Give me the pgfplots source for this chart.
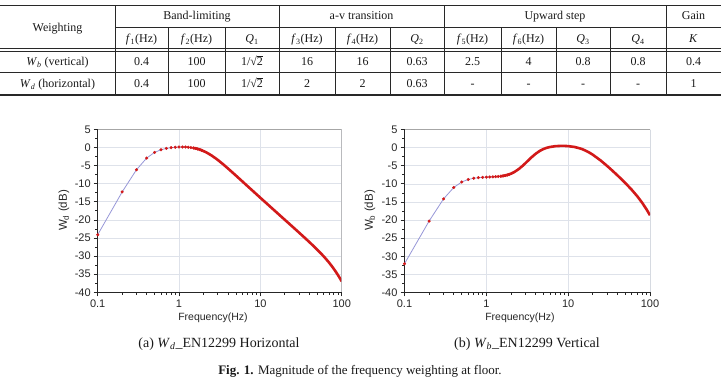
\documentclass[border=0pt]{standalone}
\usepackage{fontspec}
\setmainfont{Liberation Serif}
\setsansfont{Liberation Sans}
\usepackage{pgfplots}
\usepackage{pgfplotstable}
\pgfplotsset{compat=1.18}

\definecolor{curvered}{RGB}{210,25,25}
\definecolor{linkline}{RGB}{150,150,215}
\definecolor{gridgray}{RGB}{222,226,234}
\definecolor{rulegray}{RGB}{40,40,40}

% W_d, EN 12299 horizontal weighting (frequency in Hz, magnitude in dB)
\pgfplotstableread{
f dB
0.1 -24.10
0.2 -12.28
0.3 -6.15
0.4 -2.94
0.5 -1.38
0.6 -0.64
0.7 -0.27
0.8 -0.07
0.9 0.04
1.0 0.10
1.1 0.11
1.2 0.09
1.3 0.04
1.4 -0.04
1.5 -0.15
1.6 -0.28
1.7 -0.43
1.8 -0.61
1.9 -0.80
2.0 -1.01
2.2 -1.46
2.5 -2.20
2.8 -2.97
3 -3.47
3.5 -4.69
4 -5.82
5 -7.76
6 -9.38
7 -10.75
8 -11.93
10 -13.91
12 -15.51
15 -17.47
20 -19.99
25 -21.94
30 -23.55
35 -24.92
40 -26.13
45 -27.22
50 -28.22
55 -29.16
60 -30.07
65 -30.95
70 -31.81
75 -32.67
80 -33.53
85 -34.39
90 -35.25
95 -36.12
100 -36.99
}\Wdtable

% W_b, EN 12299 vertical weighting
\pgfplotstableread{
f dB
0.1 -32.06
0.2 -20.27
0.3 -14.16
0.4 -11.00
0.5 -9.49
0.6 -8.80
0.7 -8.46
0.8 -8.30
0.9 -8.21
1.0 -8.16
1.1 -8.11
1.2 -8.07
1.3 -8.03
1.4 -7.97
1.5 -7.90
1.6 -7.81
1.7 -7.69
1.8 -7.55
1.9 -7.39
2.0 -7.20
2.2 -6.74
2.5 -5.89
2.8 -4.95
3 -4.31
3.5 -2.84
4 -1.71
4.5 -0.91
5 -0.38
5.5 -0.04
6 0.17
7 0.40
8 0.47
9 0.47
10 0.41
12 0.17
14 -0.23
15 -0.47
16 -0.74
18 -1.33
20 -1.96
25 -3.57
30 -5.08
35 -6.44
40 -7.66
45 -8.77
50 -9.79
60 -11.68
70 -13.45
80 -15.19
90 -16.93
100 -18.67
}\Wbtable

\newcommand{\cell}[3]{\node[anchor=base, inner sep=0pt] at (#1pt,-#2pt) {#3};}
\newcommand{\iv}[1]{\textit{#1}}
% 1/sqrt(2) in the text font, with the vinculum drawn over the 2
\newcommand{\invroot}{1/√\kern-0.02em\rlap{\rule[0.73em]{0.5em}{0.045em}}2}

\begin{document}
\begin{tikzpicture}
\useasboundingbox (0pt,0pt) rectangle (721pt,-390pt);

% ---------------- parameter table ----------------
\begin{scope}[rulegray]
  \draw[line width=1.4pt] (0pt,-5.5pt) -- (721pt,-5.5pt);
  \draw[line width=0.8pt] (115pt,-27.3pt) -- (721pt,-27.3pt);
  \draw[line width=0.7pt] (0pt,-48.8pt) -- (721pt,-48.8pt);
  \draw[line width=0.7pt] (0pt,-51.3pt) -- (721pt,-51.3pt);
  \draw[line width=0.8pt] (0pt,-72.8pt) -- (721pt,-72.8pt);
  \draw[line width=1.4pt] (0pt,-95pt) -- (721pt,-95pt);
  \foreach \x in {115,279,444,666}
    \draw[line width=0.8pt] (\x pt,-5.5pt) -- (\x pt,-95pt);
  \foreach \x in {168,225,335,390,501,556,610}
    \draw[line width=0.8pt] (\x pt,-27.3pt) -- (\x pt,-95pt);
\end{scope}

\begin{scope}[font=\fontsize{12}{14}\selectfont, text=black!90]
  \cell{57.5}{31.5}{Weighting}
  \cell{197}{20}{Band-limiting}
  \cell{361.5}{20}{a-v transition}
  \cell{555}{20}{Upward step}
  \cell{693.5}{20}{Gain}

  \cell{141.5}{42.5}{\iv{f}\textsubscript{1}(Hz)}
  \cell{196.5}{42.5}{\iv{f}\textsubscript{2}(Hz)}
  \cell{252}{42.5}{\iv{Q}\textsubscript{1}}
  \cell{307}{42.5}{\iv{f}\textsubscript{3}(Hz)}
  \cell{362.5}{42.5}{\iv{f}\textsubscript{4}(Hz)}
  \cell{417}{42.5}{\iv{Q}\textsubscript{2}}
  \cell{472.5}{42.5}{\iv{f}\textsubscript{5}(Hz)}
  \cell{528.5}{42.5}{\iv{f}\textsubscript{6}(Hz)}
  \cell{583}{42.5}{\iv{Q}\textsubscript{3}}
  \cell{638}{42.5}{\iv{Q}\textsubscript{4}}
  \cell{693.5}{42.5}{\iv{K}}

  \cell{57.5}{65.5}{\iv{W}\textsubscript{\iv{b}} (vertical)}
  \cell{141.5}{65.5}{0.4}
  \cell{196.5}{65.5}{100}
  \cell{252}{65.5}{\invroot}
  \cell{307}{65.5}{16}
  \cell{362.5}{65.5}{16}
  \cell{417}{65.5}{0.63}
  \cell{472.5}{65.5}{2.5}
  \cell{528.5}{65.5}{4}
  \cell{583}{65.5}{0.8}
  \cell{638}{65.5}{0.8}
  \cell{693.5}{65.5}{0.4}

  \cell{57.5}{87.5}{\iv{W}\textsubscript{\iv{d}} (horizontal)}
  \cell{141.5}{87.5}{0.4}
  \cell{196.5}{87.5}{100}
  \cell{252}{87.5}{\invroot}
  \cell{307}{87.5}{2}
  \cell{362.5}{87.5}{2}
  \cell{417}{87.5}{0.63}
  \cell{472.5}{87.5}{-}
  \cell{528.5}{87.5}{-}
  \cell{583}{87.5}{-}
  \cell{638}{87.5}{-}
  \cell{693.5}{87.5}{1}
\end{scope}

% ---------------- (a) W_d horizontal ----------------
\begin{axis}[
    at={(97.7pt,-292.3pt)}, anchor=south west,
    scale only axis, width=244pt, height=163pt,
    xmode=log, xmin=0.1, xmax=100, ymin=-40, ymax=5,
    xtick={0.1,1,10,100}, xticklabels={0.1,1,10,100},
    minor xtick={0.2,0.3,0.4,0.5,0.6,0.7,0.8,0.9,2,3,4,5,6,7,8,9,20,30,40,50,60,70,80,90},
    ytick={-40,-35,-30,-25,-20,-15,-10,-5,0,5},
    yticklabels={-40,-35,-30,-25,-20,-15,-10,-5,0,5},
    minor ytick={-37.5,-32.5,-27.5,-22.5,-17.5,-12.5,-7.5,-2.5,2.5},
    axis x line*=bottom, axis y line*=left,
    tick align=outside, major tick length=4pt, minor tick length=2.5pt,
    axis line style={black!85, line width=0.9pt},
    tick style={black!85, line width=0.7pt},
    xmajorgrids, ymajorgrids,
    major grid style={gridgray, line width=0.6pt},
    ticklabel style={font=\fontsize{11}{12}\selectfont\sffamily, text=black!85},
    yticklabel style={xshift=0.5pt},
  ]
  \addplot[linkline, line width=0.8pt, no marks] table[x=f, y=dB] {\Wdtable};
  \addplot[curvered, line width=2.6pt, no marks, line join=round,
    skip coords between index={0}{14}] table[x=f, y=dB] {\Wdtable};
  \addplot[only marks, mark=*, mark size=1.35pt, curvered,
    mark options={draw=curvered, fill=curvered},
    skip coords between index={19}{200}] table[x=f, y=dB] {\Wdtable};
  \draw[gray!70, line width=0.7pt] (rel axis cs:0,1) -- (rel axis cs:1,1) -- (rel axis cs:1,0);
\end{axis}

% ---------------- (b) W_b vertical ----------------
\begin{axis}[
    at={(404.5pt,-292.5pt)}, anchor=south west,
    scale only axis, width=245.5pt, height=163pt,
    xmode=log, xmin=0.1, xmax=100, ymin=-40, ymax=5,
    xtick={0.1,1,10,100}, xticklabels={0.1,1,10,100},
    minor xtick={0.2,0.3,0.4,0.5,0.6,0.7,0.8,0.9,2,3,4,5,6,7,8,9,20,30,40,50,60,70,80,90},
    ytick={-40,-35,-30,-25,-20,-15,-10,-5,0,5},
    yticklabels={-40,-35,-30,-25,-20,-15,-10,-5,0,5},
    minor ytick={-37.5,-32.5,-27.5,-22.5,-17.5,-12.5,-7.5,-2.5,2.5},
    axis x line*=bottom, axis y line*=left,
    tick align=outside, major tick length=4pt, minor tick length=2.5pt,
    axis line style={black!85, line width=0.9pt},
    tick style={black!85, line width=0.7pt},
    xmajorgrids, ymajorgrids,
    major grid style={gridgray, line width=0.6pt},
    ticklabel style={font=\fontsize{11}{12}\selectfont\sffamily, text=black!85},
    yticklabel style={xshift=0.5pt},
  ]
  \addplot[linkline, line width=0.8pt, no marks] table[x=f, y=dB] {\Wbtable};
  \addplot[curvered, line width=2.6pt, no marks, line join=round,
    skip coords between index={0}{14}] table[x=f, y=dB] {\Wbtable};
  \addplot[only marks, mark=*, mark size=1.35pt, curvered,
    mark options={draw=curvered, fill=curvered},
    skip coords between index={19}{200}] table[x=f, y=dB] {\Wbtable};
  \draw[gray!70, line width=0.7pt] (rel axis cs:0,1) -- (rel axis cs:1,1) -- (rel axis cs:1,0);
\end{axis}

% axis titles
\begin{scope}[font=\fontsize{11.5}{13}\selectfont\sffamily, text=black!85]
  \node[rotate=90, inner sep=0pt] at (64pt,-210.5pt) {W\textsubscript{d} (dB)};
  \node[rotate=90, inner sep=0pt] at (370pt,-210.5pt) {W\textsubscript{b} (dB)};
\end{scope}
\begin{scope}[font=\fontsize{10.5}{12}\selectfont\sffamily, text=black!85]
  \node[anchor=base, inner sep=0pt] at (213pt,-321pt) {Frequency(Hz)};
  \node[anchor=base, inner sep=0pt] at (520pt,-321pt) {Frequency(Hz)};
\end{scope}

% captions
\begin{scope}[font=\fontsize{14}{16}\selectfont, text=black!90]
  \node[anchor=base, inner sep=0pt] at (219pt,-347.5pt) {(a) \iv{W}\textsubscript{\iv{d}}\_EN12299 Horizontal};
  \node[anchor=base, inner sep=0pt] at (527pt,-347.5pt) {(b) \iv{W}\textsubscript{\iv{b}}\_EN12299 Vertical};
\end{scope}
\node[anchor=base, inner sep=0pt, font=\fontsize{13}{15}\selectfont, text=black!90]
  at (360pt,-374pt) {\textbf{Fig. 1.} Magnitude of the frequency weighting at floor.};
\end{tikzpicture}
\end{document}
